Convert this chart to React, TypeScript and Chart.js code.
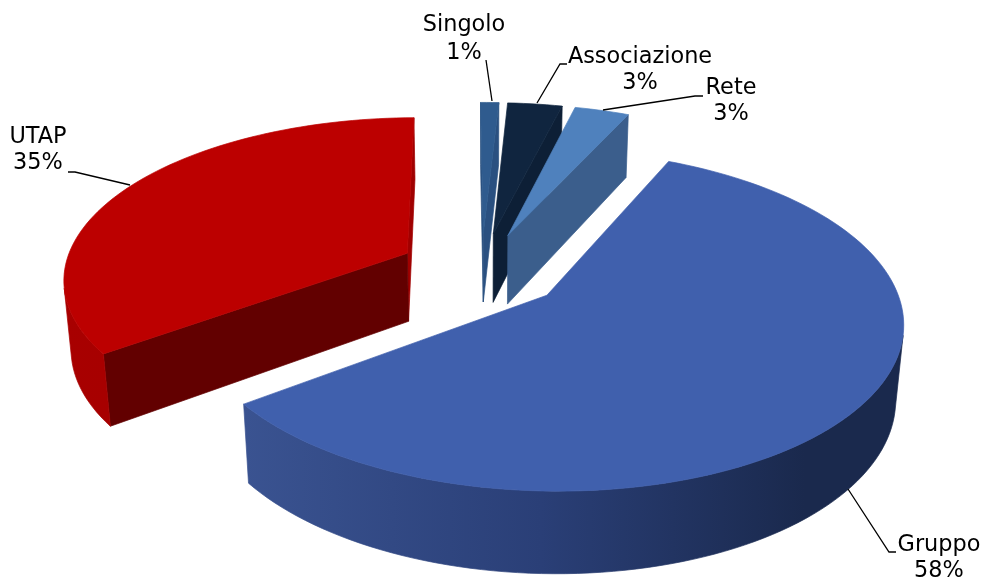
import React, { useEffect, useRef } from "react";
import { Chart, registerables } from "chart.js";

Chart.register(...registerables);

const categories = ["Gruppo", "UTAP", "Singolo", "Associazione", "Rete"];
const shares = [58, 35, 1, 3, 3];

// Styles per slice, same order as categories
const topColors = ["#4060ad", "#bc0000", "#2f5b8e", "#10253f", "#4f81bd"];
const wallStops: [number, string][][] = [
  [[0, "#3a5391"], [0.45, "#2a3f77"], [0.85, "#1a294d"], [1, "#1a294d"]],
  [[0, "#a80000"], [1, "#a00000"]],
  [[0, "#2a5080"], [1, "#2a5080"]],
  [[0, "#0d1f36"], [1, "#0d1f36"]],
  [[0, "#3b5e8c"], [1, "#3b5e8c"]],
];
const startCutColors = ["#2a3f77", "#620000", "#2a5080", "#0d1f36", "#3b5e8c"];
const endCutColors = ["#2a3f77", "#a00000", "#2a5080", "#0d1f36", "#3b5e8c"];
const paintOrder = [2, 3, 4, 1, 0];
const explodes = [0.24, 0.245, 0.24, 0.24, 0.24];
const thicknesses = [0.245, 0.23, 0.235, 0.235, 0.235];

// Camera
const view = { cx: 481.5, cy: 270.5, inv0: 0.00291, inv1: 0.00042, sin: 0.465, cos: 0.885 };

// Callouts per slice: text centre, two baselines' middles, leader polyline
const callouts = [
  { tx: 939, y1: 545, y2: 571, line: [[848, 489], [889, 552], [896, 552]] },
  { tx: 38, y1: 137, y2: 163, line: [[68, 172], [75, 172], [130, 185]] },
  { tx: 464, y1: 25, y2: 53, line: [[486, 60], [492, 101]] },
  { tx: 640, y1: 57, y2: 83, line: [[567, 64], [560, 64], [537, 103]] },
  { tx: 731, y1: 88, y2: 114, line: [[703, 96], [695, 96], [603, 110]] },
];

type P = [number, number];

function project(X: number, Y: number, z: number): P {
  const inv = view.inv0 - view.inv1 * (Y + (z * view.sin) / view.cos);
  return [view.cx + X / inv, view.cy + (Y * view.sin - z * view.cos) / inv];
}

function fillPoly(ctx: CanvasRenderingContext2D, pts: P[], fill: any) {
  ctx.beginPath();
  pts.forEach((p, i) => (i ? ctx.lineTo(p[0], p[1]) : ctx.moveTo(p[0], p[1])));
  ctx.closePath();
  ctx.fillStyle = fill;
  ctx.strokeStyle = fill;
  ctx.lineWidth = 0.7;
  ctx.fill();
  ctx.stroke();
}

function area(q: P[]) {
  let s = 0;
  for (let i = 0; i < q.length; i++) {
    const a = q[i];
    const b = q[(i + 1) % q.length];
    s += a[0] * b[1] - b[0] * a[1];
  }
  return s;
}

const pie3d = {
  id: "pie3d",
  beforeDatasetsDraw(chart: any) {
    const ctx: CanvasRenderingContext2D = chart.ctx;
    const arcs = chart.getDatasetMeta(0).data;
    ctx.save();
    for (const i of paintOrder) {
      const arc = arcs[i];
      const a0: number = arc.startAngle;
      const a1: number = arc.endAngle;
      const mid = (a0 + a1) / 2;
      const ox = Math.cos(mid) * explodes[i];
      const oy = Math.sin(mid) * explodes[i];
      const n = Math.max(2, Math.ceil((a1 - a0) / 0.03));
      const rim: [number, number][] = [];
      for (let k = 0; k <= n; k++) {
        const a = a0 + ((a1 - a0) * k) / n;
        rim.push([ox + Math.cos(a), oy + Math.sin(a)]);
      }
      const h = thicknesses[i];
      const apex: [number, number] = [ox, oy];
      const top = [apex, ...rim].map((p) => project(p[0], p[1], 0));
      const xs = top.map((p) => p[0]);
      const grad = ctx.createLinearGradient(Math.min(...xs), 0, Math.max(...xs), 0);
      wallStops[i].forEach(([o, c]) => grad.addColorStop(o, c));

      const faces: { depth: number; pts: P[]; fill: any }[] = [];
      const addQuad = (p: [number, number], q: [number, number], fill: any) => {
        const quad: P[] = [
          project(p[0], p[1], 0),
          project(q[0], q[1], 0),
          project(q[0], q[1], -h),
          project(p[0], p[1], -h),
        ];
        if (area(quad) < 0) faces.push({ depth: (p[1] + q[1]) / 2, pts: quad, fill });
      };
      addQuad(apex, rim[0], startCutColors[i]);
      addQuad(rim[rim.length - 1], apex, endCutColors[i]);

      // The visible part of the outer wall, joined into one polygon
      const run: [number, number][] = [];
      for (let k = 0; k < rim.length - 1; k++) {
        const p = rim[k];
        const q = rim[k + 1];
        const quad: P[] = [
          project(p[0], p[1], 0),
          project(q[0], q[1], 0),
          project(q[0], q[1], -h),
          project(p[0], p[1], -h),
        ];
        if (area(quad) < 0) {
          if (!run.length) run.push(p);
          run.push(q);
        }
      }
      if (run.length > 1) {
        const upper = run.map((p) => project(p[0], p[1], 0));
        const lower = run.map((p) => project(p[0], p[1], -h)).reverse();
        const depth = Math.max(...run.map((p) => p[1]));
        faces.push({ depth, pts: [...upper, ...lower], fill: grad });
      }
      faces.sort((a, b) => a.depth - b.depth);
      faces.forEach((f) => fillPoly(ctx, f.pts, f.fill));
      fillPoly(ctx, top, topColors[i]);
    }
    ctx.restore();
    return false;
  },
  afterDraw(chart: any) {
    const ctx: CanvasRenderingContext2D = chart.ctx;
    const total = shares.reduce((a, b) => a + b, 0);
    ctx.save();
    ctx.font = '22.4px "DejaVu Sans"';
    ctx.textAlign = "center";
    ctx.textBaseline = "middle";
    ctx.fillStyle = "#000";
    ctx.strokeStyle = "#000";
    ctx.lineWidth = 1.3;
    callouts.forEach((c, i) => {
      ctx.beginPath();
      c.line.forEach((p, k) => (k ? ctx.lineTo(p[0], p[1]) : ctx.moveTo(p[0], p[1])));
      ctx.stroke();
      ctx.fillText(categories[i], c.tx, c.y1);
      ctx.fillText(`${Math.round((shares[i] / total) * 100)}%`, c.tx, c.y2);
    });
    ctx.restore();
  },
};

export default function App() {
  const ref = useRef<HTMLCanvasElement>(null);
  useEffect(() => {
    const chart = new Chart(ref.current as HTMLCanvasElement, {
      type: "pie",
      data: { labels: categories, datasets: [{ data: shares, backgroundColor: topColors, borderWidth: 0 }] },
      options: {
        animation: false,
        responsive: false,
        rotation: 24.7,
        plugins: { legend: { display: false }, tooltip: { enabled: false } },
      },
      plugins: [pie3d],
    } as any);
    return () => chart.destroy();
  }, []);
  return (
    <canvas
      ref={ref}
      width={983}
      height={581}
      style={{ position: "absolute", left: 0, top: 0, width: 983, height: 581, display: "block", background: "#fff" }}
    />
  );
}
